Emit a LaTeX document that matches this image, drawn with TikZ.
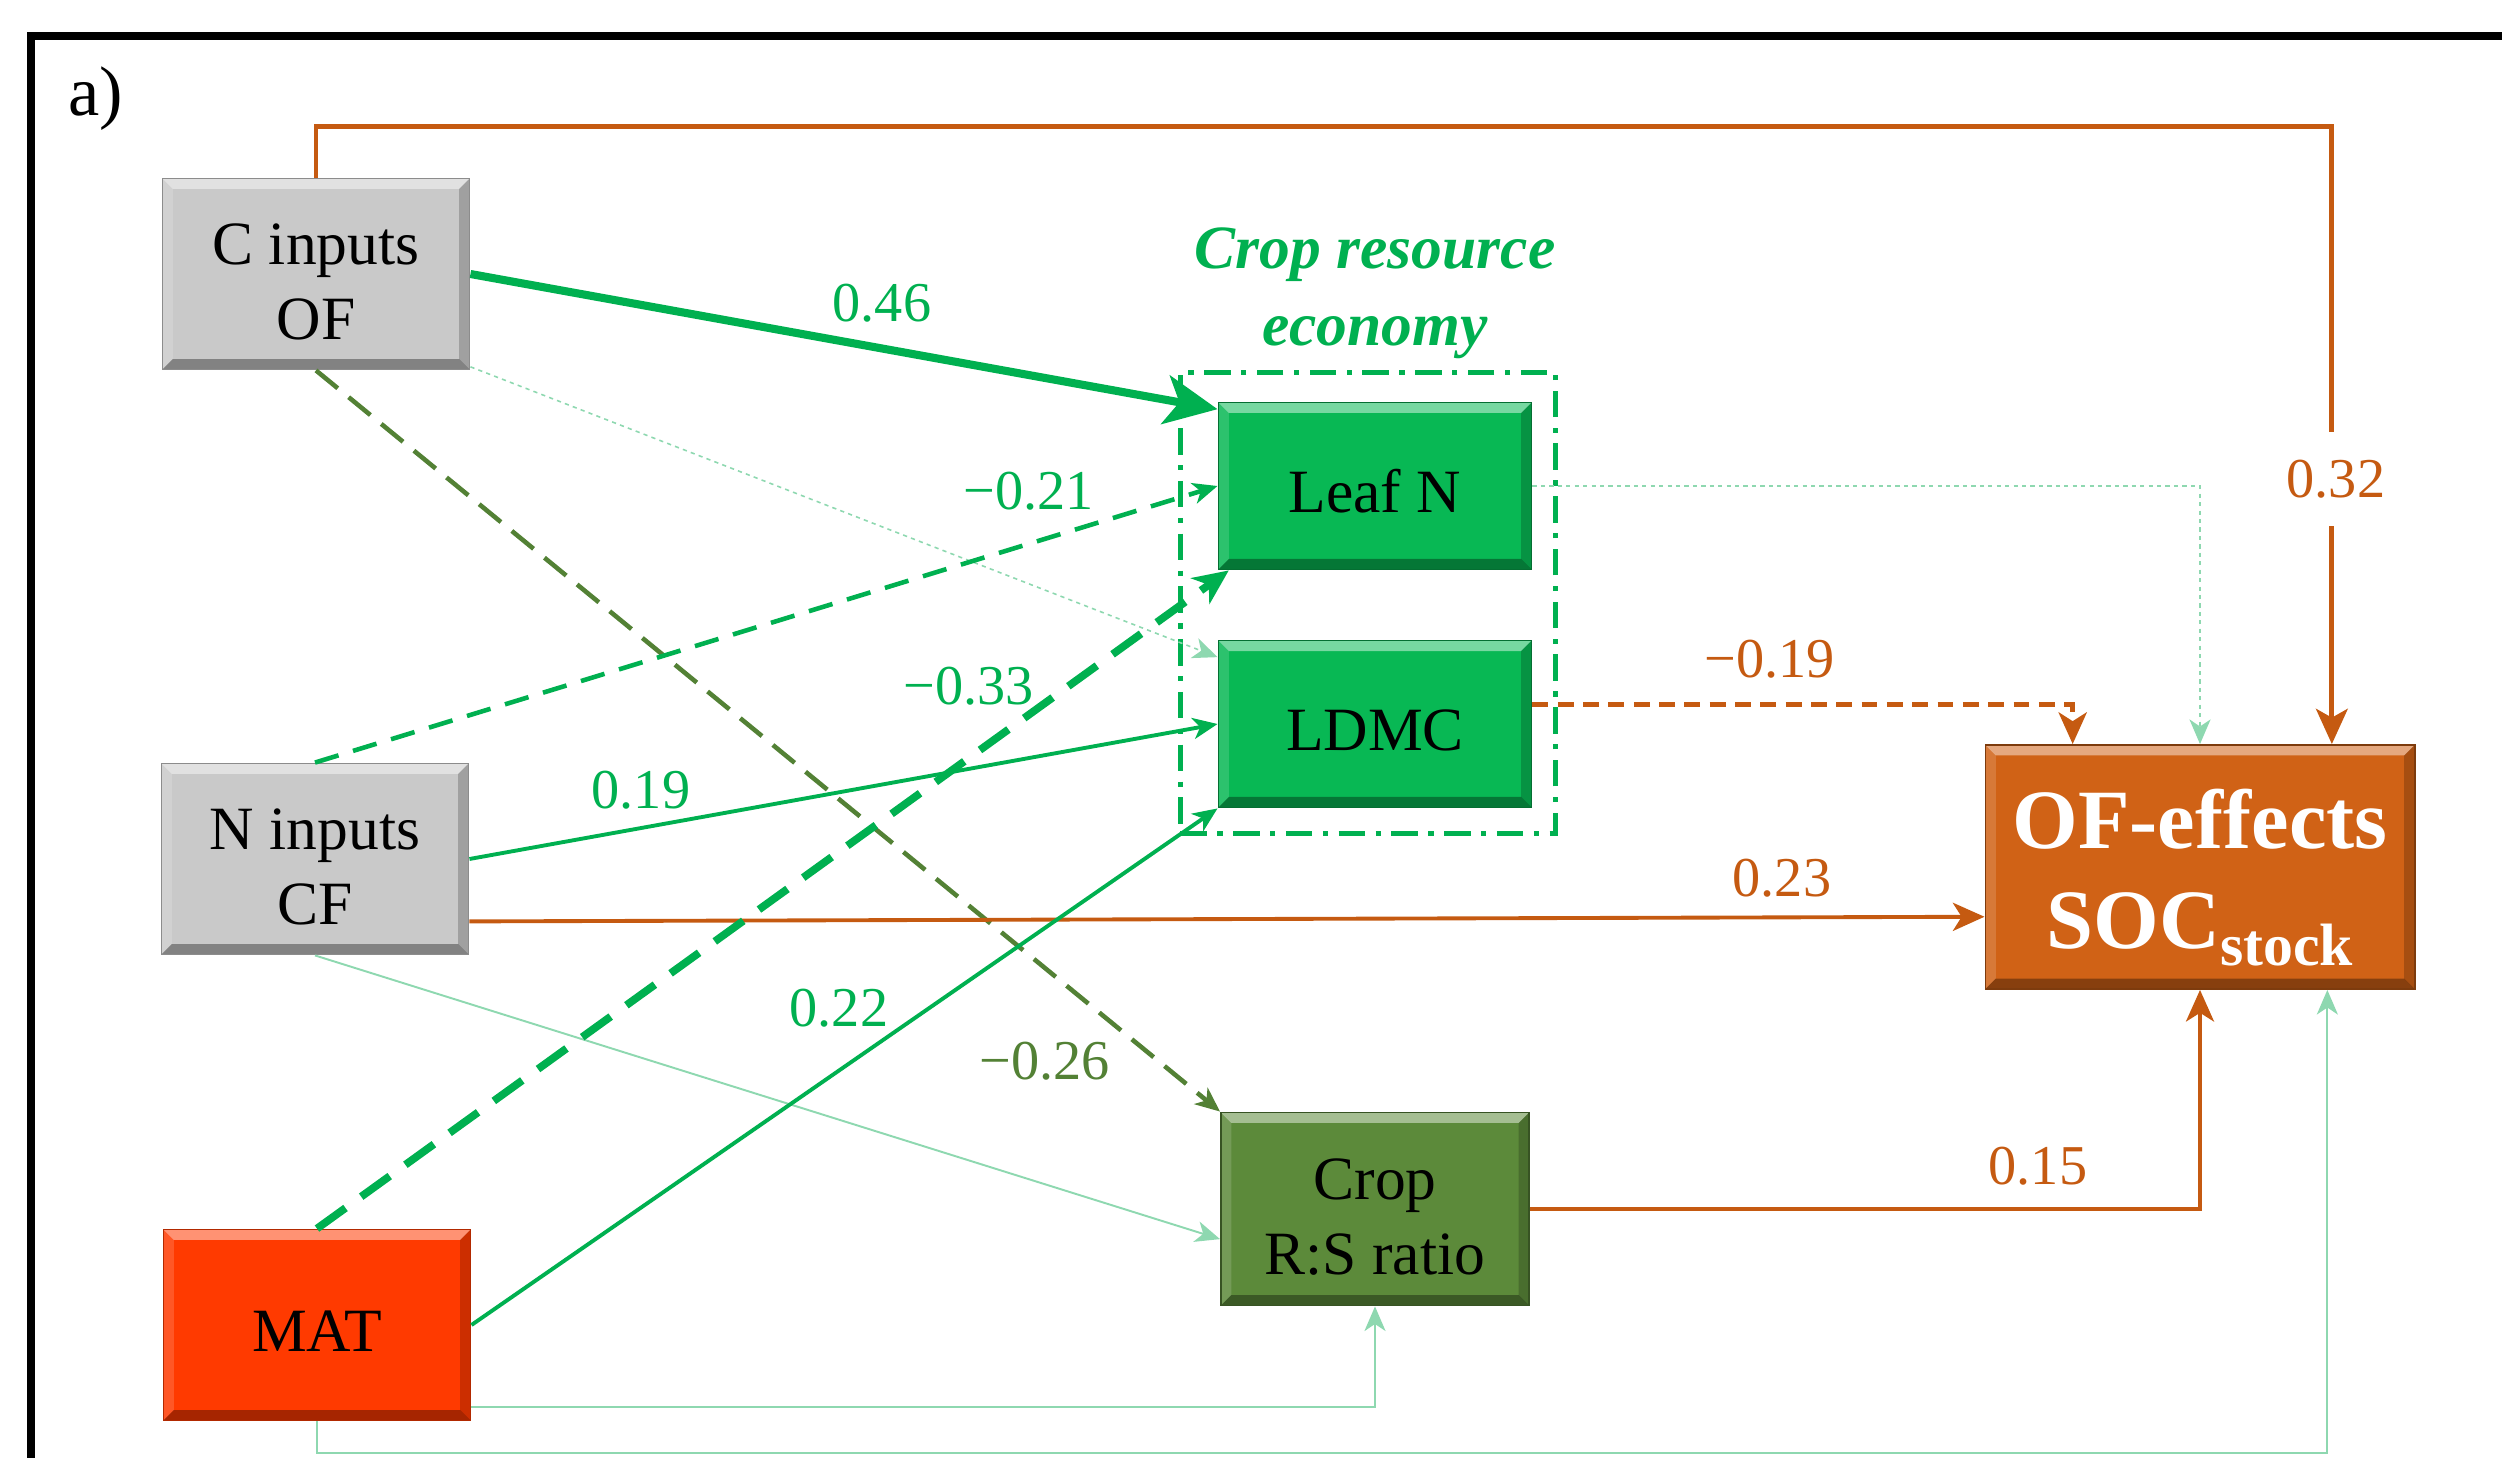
\documentclass[tikz,border=0pt]{standalone}
\usepackage{fontspec}
\setmainfont{Liberation Serif}
\usetikzlibrary{arrows.meta}
\definecolor{ofgreen}{RGB}{0,176,80}
\definecolor{traitgreen}{RGB}{8,184,84}
\definecolor{olive}{RGB}{83,129,53}
\definecolor{cropgreen}{RGB}{92,138,58}
\definecolor{oforange}{RGB}{197,90,17}
\definecolor{socorange}{RGB}{208,98,22}
\definecolor{matred}{RGB}{255,58,0}
\definecolor{boxgrey}{RGB}{201,201,201}
\definecolor{paleg}{RGB}{142,216,176}
\newcommand{\topstrut}[1]{\rule{0pt}{#1}}
\tikzstyle{bevel}=[path picture={
  \fill[white,opacity=.45] (path picture bounding box.north west) -- (path picture bounding box.north east)
    -- ([shift={(-3pt,-3pt)}]path picture bounding box.north east) -- ([shift={(3pt,-3pt)}]path picture bounding box.north west) -- cycle;
  \fill[white,opacity=.15] (path picture bounding box.north west) -- (path picture bounding box.south west)
    -- ([shift={(3pt,3pt)}]path picture bounding box.south west) -- ([shift={(3pt,-3pt)}]path picture bounding box.north west) -- cycle;
  \fill[black,opacity=.2] (path picture bounding box.north east) -- (path picture bounding box.south east)
    -- ([shift={(-3pt,3pt)}]path picture bounding box.south east) -- ([shift={(-3pt,-3pt)}]path picture bounding box.north east) -- cycle;
  \fill[black,opacity=.35] (path picture bounding box.south west) -- (path picture bounding box.south east)
    -- ([shift={(-3pt,3pt)}]path picture bounding box.south east) -- ([shift={(3pt,3pt)}]path picture bounding box.south west) -- cycle;
}]
\tikzstyle{inbox}=[rectangle, bevel, fill=boxgrey, draw=black!45, line width=0.5pt, align=center, inner sep=0pt,
  minimum width=3.07cm, minimum height=1.91cm, font=\fontsize{17.5}{21.3}\selectfont]
\tikzstyle{matbox}=[inbox, fill=matred, draw=matred!70!black]
\tikzstyle{traitbox}=[inbox, fill=traitgreen, draw=traitgreen!60!black, minimum width=3.13cm, minimum height=1.67cm]
\tikzstyle{cropbox}=[inbox, fill=cropgreen, draw=cropgreen!60!black, minimum width=3.08cm, minimum height=1.93cm]
\tikzstyle{socbox}=[inbox, fill=socorange, draw=socorange!60!black, text=white, minimum width=4.29cm, minimum height=2.44cm,
  font=\fontsize{24}{28.5}\selectfont\bfseries]
\tikzstyle{grp}=[draw=ofgreen, line width=1.4pt, dash pattern=on 7.5pt off 3pt on 1.5pt off 3pt,
  minimum width=3.75cm, minimum height=4.6cm]
\tikzstyle{coef}=[font=\fontsize{16}{16}\selectfont, inner sep=1pt]
\tikzstyle{tip}=[-{Stealth[length=7pt,width=6pt,inset=2pt]}]
\tikzstyle{pw}=[tip, draw=ofgreen, line width=1.1pt]
\tikzstyle{lt}=[tip, draw=paleg, line width=0.55pt]
\tikzstyle{olv}=[tip, draw=olive, line width=1.3pt, dash pattern=on 8pt off 4pt]
\tikzstyle{orn}=[-{Stealth[length=9pt,width=8pt,inset=2.5pt]}, draw=oforange, line width=1.1pt]
\begin{document}
\begin{tikzpicture}[x=0.01cm,y=-0.01cm]
  \useasboundingbox (0,0) rectangle (2502,1458);
  \draw[line width=2pt] (31,1470) -- (31,36) -- (2520,36);
  \node[font=\fontsize{20}{20}\selectfont] (tag) at (96,99) {a)};

  % trait group
  \node[grp] (eco) at (1368,603) {};
  \node[font=\fontsize{17.5}{21.8}\selectfont\bfseries\itshape, text=ofgreen, align=center] (ecotitle) at (1375,293) {Crop resource\\economy};

  % variables
  \node[inbox] (cin) at (316,274) {\topstrut{16pt}C inputs\\OF};
  \node[inbox] (nin) at (315,859) {\topstrut{16pt}N inputs\\CF};
  \node[matbox] (mat) at (317,1325) {\topstrut{15pt}MAT};
  \node[traitbox] (leafn) at (1375,486) {\topstrut{15pt}Leaf N};
  \node[traitbox] (ldmc) at (1375,724) {\topstrut{15pt}LDMC};
  \node[cropbox] (crop) at (1375,1209) {\topstrut{16pt}Crop\\R:S ratio};
  \node[socbox] (soc) at (2200,867) {\topstrut{23pt}OF-effects\\SOC\raisebox{-0.45ex}{\fontsize{17}{17}\selectfont stock}};

  % paths
  \draw[pw, line width=2.3pt, -{Stealth[length=15pt,width=14pt,inset=4pt]}] (cin.east) -- (leafn.154);
  \draw[lt, line width=0.45pt, dash pattern=on 1.2pt off 1.2pt] (cin.-31) -- (ldmc.157);
  \draw[olv] (cin.south) -- (crop.north west);
  \draw[orn, line width=1.4pt, -{Stealth[length=10pt,width=9pt,inset=2.5pt]}] (cin.north) -- ++(0,-51) -| (soc.43);
  \draw[pw, line width=1.3pt, dash pattern=on 7pt off 4.3pt] (nin.north) -- (leafn.west);
  \draw[pw] (nin.east) -- (ldmc.west);
  \draw[orn] (nin.-22) -- (soc.193);
  \draw[lt] (nin.south) -- (crop.191);
  \draw[pw, line width=2.2pt, dash pattern=on 10pt off 5.5pt, -{Stealth[length=10pt,width=9pt,inset=3pt]}] (mat.north) -- (leafn.210);
  \draw[pw] (mat.east) -- (ldmc.south west);
  \draw[lt] (mat.-28) -| (crop.south);
  \draw[lt] (mat.south) -- ++(0,32) -| (soc.-44);
  \draw[lt, line width=0.45pt, dash pattern=on 1.2pt off 1.2pt] (leafn.east) -| (soc.north);
  \draw[orn, line width=1.4pt, dash pattern=on 4.5pt off 2.7pt] (ldmc.7) -| (soc.136);
  \draw[orn, line width=0.9pt] (crop.east) -| (soc.south);

  % coefficients
  \node[coef, text=ofgreen] (c046) at (882,303) {0.46};
  \node[coef, text=ofgreen] (c021) at (1029,491) {−0.21};
  \node[coef, text=ofgreen] (c033) at (969,686) {−0.33};
  \node[coef, text=ofgreen] (c019) at (641,790) {0.19};
  \node[coef, text=ofgreen] (c022) at (839,1008) {0.22};
  \node[coef, text=olive] (c026) at (1045,1061) {−0.26};
  \node[coef, text=oforange] (c023) at (1782,878) {0.23};
  \node[coef, text=oforange] (c019b) at (1770,659) {−0.19};
  \node[coef, text=oforange] (c015) at (2038,1166) {0.15};
  \node[coef, text=oforange, fill=white, inner xsep=2pt, inner ysep=8pt] (c032) at (2336,479) {0.32};
\end{tikzpicture}
\end{document}
